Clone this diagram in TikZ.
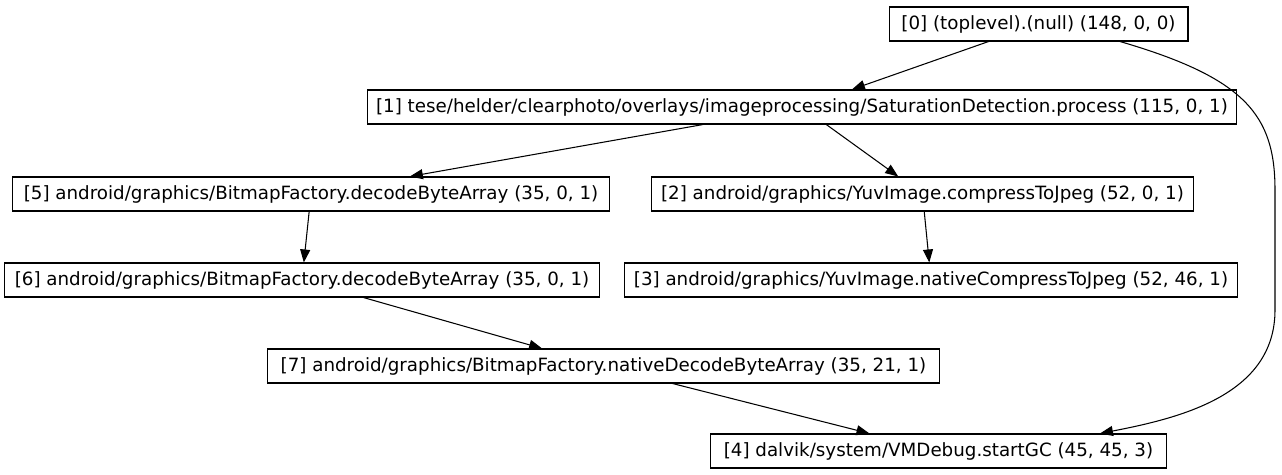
\documentclass[tikz,border=0pt]{standalone}
\usepackage{fontspec}
\setmainfont{DejaVu Sans}
\usetikzlibrary{arrows.meta}
\begin{document}
\begin{tikzpicture}[x=0.02cm,y=-0.02cm,
        call/.style={draw,line width=0.6pt,font=\fontsize{10.4}{12}\selectfont,
            inner xsep=0pt,inner ysep=0pt,minimum height=0.68cm,minimum width=#1},
        call/.default=2cm,
        edge/.style={-{Triangle[length=0.26cm,width=0.2cm]},line width=0.6pt}]
    \useasboundingbox (0,0) rectangle (1282,475);

    % Draw call nodes
    \node[call=5.98cm]  (n0) at (1038.5,24) {[0] (toplevel).(null) (148, 0, 0)};
    \node[call=17.4cm]  (n1) at (802,107)   {[1] tese/helder/clearphoto/overlays/imageprocessing/SaturationDetection.process (115, 0, 1)};
    \node[call=11.96cm] (n5) at (311,194)   {[5] android/graphics/BitmapFactory.decodeByteArray (35, 0, 1)};
    \node[call=10.86cm] (n2) at (922.5,194) {[2] android/graphics/YuvImage.compressToJpeg (52, 0, 1)};
    \node[call=11.92cm] (n6) at (302,280)   {[6] android/graphics/BitmapFactory.decodeByteArray (35, 0, 1)};
    \node[call=12.28cm] (n3) at (931,280)   {[3] android/graphics/YuvImage.nativeCompressToJpeg (52, 46, 1)};
    \node[call=13.46cm] (n7) at (603.5,366) {[7] android/graphics/BitmapFactory.nativeDecodeByteArray (35, 21, 1)};
    \node[call=9.14cm]  (n4) at (938.5,451) {[4] dalvik/system/VMDebug.startGC (45, 45, 3)};

    % Draw calls
    \foreach \a/\b in {n0/n1,n1/n5,n1/n2,n5/n6,n2/n3,n6/n7,n7/n4}
       {
            \draw[edge] (\a) -- (\b);
       }
    \draw[edge] ([xshift=1.63cm]n0.south) .. controls (1245,78) and (1275,115) .. (1275,190)
        -- (1275,310) .. controls (1275,395) and (1180,418) .. ([xshift=3.23cm]n4.north);
\end{tikzpicture}
\end{document}
